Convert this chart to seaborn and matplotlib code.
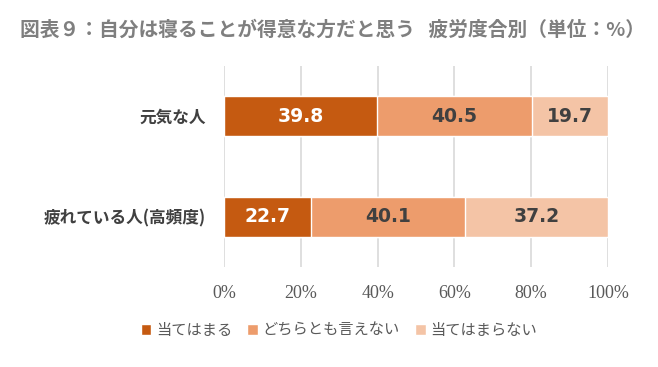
import matplotlib
matplotlib.use("Agg")
import matplotlib.pyplot as plt
from matplotlib.patches import Patch
import seaborn as sns
import numpy as np
import pandas as pd

groups = ["元気な人", "疲れている人(高頻度)"]
series = ["当てはまる", "どちらとも言えない", "当てはまらない"]
yes = [39.8, 22.7]
neutral = [40.5, 40.1]
no = [19.7, 37.2]
colors = ["#C55A11", "#ED9C6C", "#F4C4A6"]
ticks = [0, 20, 40, 60, 80, 100]

sns.set_style("white")
plt.rcParams["font.family"] = ["Noto Sans CJK JP", "DejaVu Sans"]

vals = np.array([yes, neutral, no])
cum = vals.cumsum(axis=0)

fig = plt.figure(figsize=(6.58, 3.67), dpi=100)
ax = fig.add_axes([0.3404, 0.2725, 0.5836, 0.5477])

# stacked bars: draw the longest cumulative first
for i in [2, 1, 0]:
    df = pd.DataFrame({"group": groups, "value": cum[i]})
    sns.barplot(data=df, x="value", y="group", color=colors[i], width=0.4,
                saturation=1, ax=ax, zorder=2)

for i in range(3):
    for j in range(len(groups)):
        c = "white" if i == 0 else "#404040"
        ax.text(cum[i][j] - vals[i][j] / 2, j, f"{vals[i][j]:.1f}", ha="center",
                va="center", color=c, fontsize=13.5, fontweight="bold",
                family="DejaVu Sans", zorder=3)

ax.set_xlim(0, 100)
ax.set_ylim(1.5, -0.5)
ax.set_xticks(ticks)
ax.set_xticklabels([f"{t}%" for t in ticks], family="Liberation Serif",
                   fontsize=13, color="#595959")
ax.tick_params(axis="both", length=0)
ax.tick_params(axis="x", pad=13)
ax.tick_params(axis="y", pad=13)
ax.set_yticks(range(len(groups)))
ax.set_yticklabels(groups, fontsize=12, fontweight="bold", color="#404040")
ax.set_xlabel("")
ax.set_ylabel("")
ax.grid(axis="x", color="#D9D9D9", linewidth=1.2, zorder=0)
ax.set_axisbelow(True)
sns.despine(ax=ax, left=True, bottom=True)

fig.text(0.03, 0.918, "図表９：自分は寝ることが得意な方だと思う   疲労度合別（単位：%）",
         fontsize=14.2, fontweight="bold", color="#7F7F7F", va="center", ha="left")

handles = [Patch(facecolor=colors[i], label=series[i]) for i in range(3)]
fig.legend(handles=handles, loc="center", bbox_to_anchor=(0.515, 0.1), ncol=3,
           frameon=False, fontsize=11, handlelength=0.7, handleheight=0.7,
           handletextpad=0.3, columnspacing=1.0, labelcolor="#595959")

fig.savefig("out.png", dpi=100)
